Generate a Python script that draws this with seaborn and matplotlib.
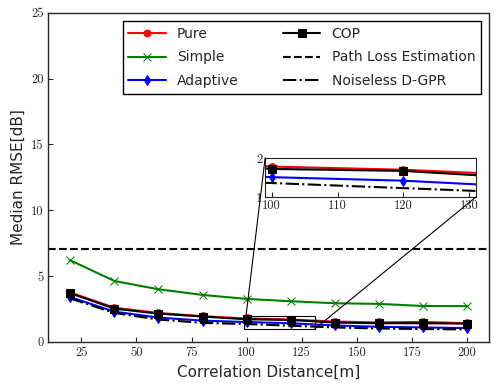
import numpy as np
import pandas as pd
import matplotlib
matplotlib.use("Agg")
import matplotlib.pyplot as plt
import seaborn as sns
from matplotlib.patches import Rectangle, ConnectionPatch

# Data
distance = [20, 40, 60, 80, 100, 120, 140, 160, 180, 200]
pure = [3.75, 2.6, 2.2, 1.95, 1.78, 1.70, 1.55, 1.48, 1.52, 1.42]
simple = [6.2, 4.63, 4.0, 3.57, 3.27, 3.09, 2.94, 2.89, 2.73, 2.72]
adaptive = [3.4, 2.3, 1.85, 1.62, 1.51, 1.42, 1.25, 1.15, 1.10, 1.05]
cop = [3.7, 2.53, 2.15, 1.93, 1.72, 1.67, 1.47, 1.42, 1.42, 1.39]
noiseless = [3.3, 2.2, 1.7, 1.45, 1.36, 1.23, 1.10, 1.02, 0.98, 0.95]
path_loss = 7.07

sns.set_style("ticks")
plt.rcParams['font.family'] = ['DejaVu Sans']
plt.rcParams['xtick.direction'] = 'in'
plt.rcParams['ytick.direction'] = 'in'

fig, ax = plt.subplots(figsize=(4.98, 3.89), dpi=100)
fig.subplots_adjust(left=0.097, right=0.982, top=0.967, bottom=0.121)

series = [
    ("Pure", pure, "red", "o", 5.5, "-"),
    ("Simple", simple, "green", "x", 6, "-"),
    ("Adaptive", adaptive, "blue", "d", 5.5, "-"),
    ("COP", cop, "black", "s", 6, "-"),
]


def draw(axis, legend=True):
    for name, vals, col, mk, ms, ls in series:
        sns.lineplot(x=distance, y=vals, ax=axis, color=col, marker=mk,
                     markersize=ms, linestyle=ls, linewidth=1.5,
                     markeredgecolor=col, label=name if legend else None)
    axis.axhline(path_loss, color="black", linestyle="--", linewidth=1.5,
                 label="Path Loss Estimation" if legend else None)
    sns.lineplot(x=distance, y=noiseless, ax=axis, color="black",
                 linestyle="-.", linewidth=1.5,
                 label="Noiseless D-GPR" if legend else None)


draw(ax)
ax.set_xlim(10, 210)
ax.set_ylim(0, 25)
ax.set_xticks([25, 50, 75, 100, 125, 150, 175, 200])
ax.set_yticks([0, 5, 10, 15, 20, 25])
ax.set_xlabel("Correlation Distance[m]", fontsize=11)
ax.set_ylabel("Median RMSE[dB]", fontsize=11)
for lbl in ax.get_xticklabels() + ax.get_yticklabels():
    lbl.set_family("cmr10")
    lbl.set_fontsize(9)
for s in ax.spines.values():
    s.set_linewidth(1.0)

leg = ax.legend(loc="upper right", ncol=2, fontsize=10, fancybox=False,
                edgecolor="black", framealpha=1, handlelength=2.7,
                labelspacing=0.7, columnspacing=3.2, borderaxespad=0.6,
                markerscale=0.9)
leg.get_frame().set_linewidth(1.0)

# zoomed inset
axins = ax.inset_axes([0.492, 0.44, 0.478, 0.119])
draw(axins, legend=False)
axins.set_xlim(99, 131)
axins.set_ylim(1, 2)
axins.set_xticks([100, 110, 120, 130])
axins.set_yticks([1, 2])
for lbl in axins.get_xticklabels() + axins.get_yticklabels():
    lbl.set_family("cmr10")
    lbl.set_fontsize(9)
axins.tick_params(pad=2)
axins.set_xlabel("")
axins.set_ylabel("")

ax.add_patch(Rectangle((99, 1), 32, 1, fill=False, edgecolor="black",
                       linewidth=0.8, zorder=5))
for pa, pb in [((99, 2), (99, 1)), ((131, 1), (131, 1))]:
    con = ConnectionPatch(xyA=pa, coordsA=axins.transData, xyB=pb,
                          coordsB=ax.transData, color="black", linewidth=0.8)
    fig.add_artist(con)

plt.savefig("out.png", dpi=100)
